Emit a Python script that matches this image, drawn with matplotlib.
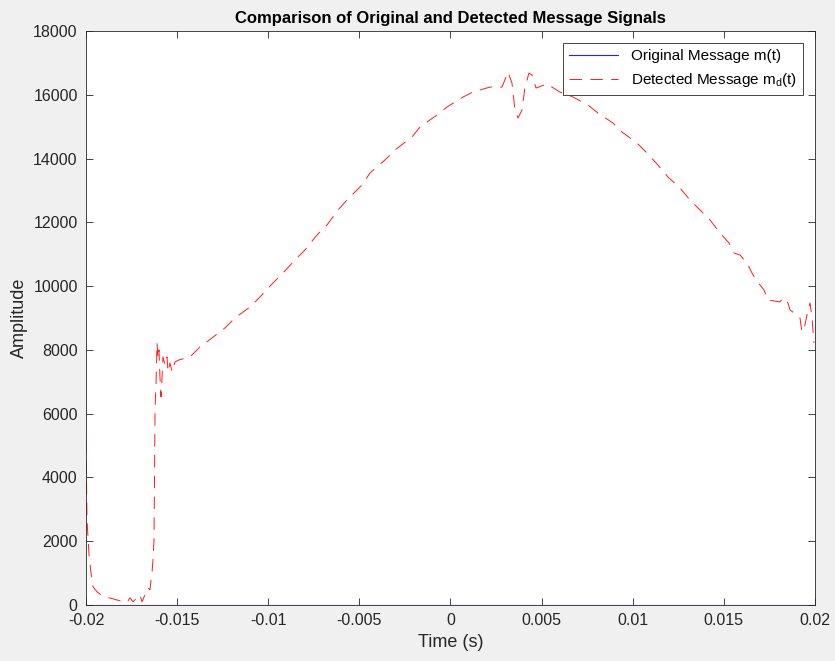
import matplotlib
matplotlib.use("Agg")
import matplotlib.pyplot as plt

# time axis (s) and detected message values
det_t = [-0.02, -0.019945, -0.019835, -0.019726, -0.019616, -0.019396, -0.019177,
         -0.018957, -0.018518, -0.018134, -0.01786, -0.017695, -0.017586, -0.017421,
         -0.017257, -0.017037, -0.016927, -0.016763, -0.016598, -0.016488, -0.016433,
         -0.016379, -0.016324, -0.016269, -0.016241, -0.016214, -0.016187, -0.016159,
         -0.016104, -0.016049, -0.015995, -0.01594, -0.015885, -0.01583, -0.015775,
         -0.015665, -0.015556, -0.015501, -0.015391, -0.015281, -0.015117, -0.014897,
         -0.014294, -0.013745, -0.013086, -0.012373, -0.011824, -0.011001, -0.010453,
         -0.009739, -0.009191, -0.008532, -0.007984, -0.007325, -0.006776, -0.006173,
         -0.005679, -0.004856, -0.004417, -0.003594, -0.003045, -0.002113, -0.001674,
         -0.000741, -0.000192, 0.000686, 0.001235, 0.002167, 0.002826, 0.003155,
         0.003374, 0.003539, 0.003704, 0.003923, 0.004088, 0.004307, 0.004472,
         0.004691, 0.005295, 0.006008, 0.006722, 0.007545, 0.008093, 0.008916,
         0.00941, 0.010233, 0.010782, 0.011385, 0.011934, 0.012593, 0.013141,
         0.014239, 0.014787, 0.015281, 0.015556, 0.015885, 0.016269, 0.016543,
         0.016763, 0.017202, 0.017421, 0.01808, 0.018244, 0.018519, 0.018628,
         0.019012, 0.019177, 0.019287, 0.019451, 0.019616, 0.019726, 0.019835, 0.019945]
det_m = [5174, 2666, 1568, 1004, 564, 408, 314,
         251, 188, 125, 188, 125, 220, 94,
         188, 314, 94, 314, 533, 470, 784,
         1004, 1411, 2038, 3920, 6052, 6523, 6899,
         8216, 7746, 7997, 7119, 6523, 7119, 7777,
         7526, 7777, 7307, 7589, 7307, 7620, 7683,
         7777, 8091, 8373, 8687, 9000, 9345, 9659,
         10098, 10412, 10819, 11133, 11603, 11917, 12387,
         12701, 13171, 13548, 13955, 14269, 14676, 14990,
         15366, 15617, 15930, 16087, 16244, 16244, 16714,
         16370, 15523, 15272, 15523, 16244, 16683, 16620,
         16213, 16338, 16087, 15930, 15680, 15429, 15115,
         14833, 14488, 14175, 13798, 13422, 13077, 12701,
         12074, 11666, 11352, 11039, 10976, 10725, 10412,
         10192, 9878, 9565, 9502, 9627, 9471, 9251,
         9094, 9000, 8561, 8781, 9251, 9471, 9031, 8216]

# original message is tiny compared to the detected one (sits on zero)
orig_t = [-0.02, -0.01, 0.0, 0.01, 0.02]
orig_m = [0, 0, 0, 0, 0]

x_ticks = [-0.02, -0.015, -0.01, -0.005, 0, 0.005, 0.01, 0.015, 0.02]
x_labels = ["-0.02", "-0.015", "-0.01", "-0.005", "0", "0.005", "0.01", "0.015", "0.02"]
y_ticks = list(range(0, 18001, 2000))

plt.rcParams["font.family"] = ["Liberation Sans", "DejaVu Sans"]
plt.rcParams["lines.scale_dashes"] = False

fig = plt.figure(figsize=(8.35, 6.61), dpi=100, facecolor="#f0f0f0")
ax = fig.add_axes([0.103, 0.085, 0.873, 0.868])

ax.plot(orig_t, orig_m, color="#2020ff", lw=0.8, label="Original Message m(t)")
ax.plot(det_t, det_m, color="#ff1a1a", lw=0.7, dashes=(9, 6),
        label="Detected Message m$_\\mathregular{d}$(t)")

ax.set_xlim(-0.02, 0.02)
ax.set_ylim(0, 18000)
ax.set_xticks(x_ticks)
ax.set_xticklabels(x_labels)
ax.set_yticks(y_ticks)
ax.set_yticklabels([str(v) for v in y_ticks])
ax.tick_params(direction="in", top=True, right=True, length=5, width=0.6,
               labelsize=11.5, colors="#262626", pad=6)
for s in ax.spines.values():
    s.set_color("#262626")
    s.set_linewidth(0.6)

ax.set_xlabel("Time (s)", fontsize=13, color="#262626")
ax.set_ylabel("Amplitude", fontsize=13, color="#262626")
ax.set_title("Comparison of Original and Detected Message Signals",
             fontsize=12, fontweight="bold", pad=6)

leg = ax.legend(loc="upper right", fontsize=11, fancybox=False, framealpha=1,
                edgecolor="#262626", handlelength=3.2, borderaxespad=0.8)
leg.get_frame().set_linewidth(0.6)

fig.savefig("out.png", dpi=100, facecolor=fig.get_facecolor())
